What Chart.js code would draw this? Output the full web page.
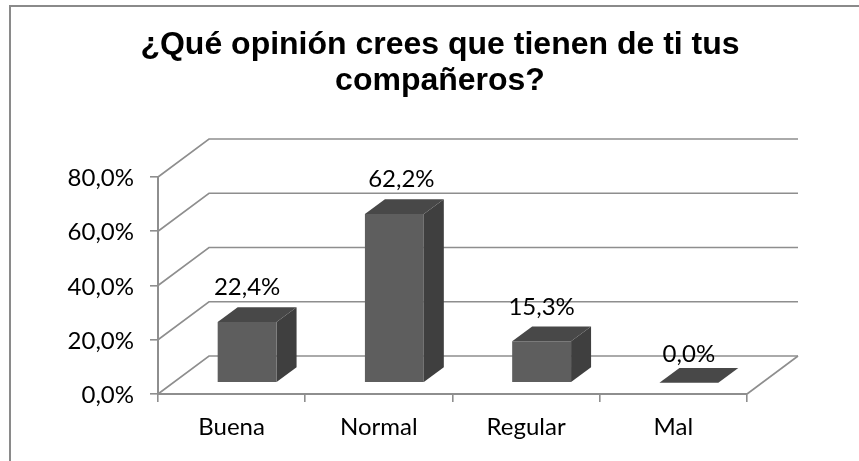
<!DOCTYPE html>
<html>
<head>
<meta charset="utf-8">
<style>
html,body{margin:0;padding:0;background:#fff;overflow:hidden;width:859px;height:461px}
#frame{position:absolute;left:9px;top:5px;width:860px;height:470px;border-left:2px solid #8a8a8a;border-top:2px solid #8a8a8a;box-sizing:border-box}
#wrap{position:absolute;left:0;top:0;width:859px;height:461px}
</style>
<script src="https://cdn.jsdelivr.net/npm/chart.js@4"></script>
</head>
<body>
<div id="frame"></div>
<div id="wrap"><canvas id="c" width="859" height="461"></canvas></div>
<script>
const categories = ['Buena', 'Normal', 'Regular', 'Mal'];
const values = [22.4, 62.2, 15.3, 0.0];
const titleLines = ['¿Qué opinión crees que tienen de ti tus', 'compañeros?'];
const labelShiftX = [0, 7, 0, 0];
const labelShiftY = [-34.4, -35, -33.7, -28];

const fmt = v => v.toFixed(1).replace('.', ',') + '%';
const WALL = {dx: 51, dy: -38};
const BAR_POS = {dx: 15.5, dy: -11.3};
const BAR_DEPTH = {dx: 20, dy: -14.7};
const GRID = '#8e8e8e';

const plugin3d = {
  id: 'plugin3d',
  beforeDraw(chart) {
    chart.scales.y.getLabelItems().forEach(item => {
      if (!item.options.nudged) {
        item.options.translation[1] += 1.5;
        item.options.nudged = true;
      }
    });
  },
  beforeDatasetsDraw(chart) {
    const {ctx, scales: {x, y}} = chart;
    ctx.save();
    ctx.strokeStyle = GRID;
    ctx.lineWidth = 1.6;
    y.ticks.forEach(t => {
      const py = y.getPixelForValue(t.value);
      ctx.beginPath();
      ctx.moveTo(x.left, py);
      ctx.lineTo(x.left + WALL.dx, py + WALL.dy);
      ctx.lineTo(x.right + WALL.dx, py + WALL.dy);
      ctx.stroke();
    });
    const by = y.getPixelForValue(0);
    ctx.beginPath();
    ctx.moveTo(x.right, by);
    ctx.lineTo(x.right + WALL.dx, by + WALL.dy);
    ctx.stroke();
    ctx.restore();
    ctx.save();
    ctx.translate(BAR_POS.dx, BAR_POS.dy);
    chart.getDatasetMeta(0).data.forEach(b => {
      const l = b.x - b.width / 2, r = b.x + b.width / 2, t = b.y, bo = b.base;
      ctx.fillStyle = '#3f3f3f';
      ctx.beginPath();
      ctx.moveTo(r, t); ctx.lineTo(r + BAR_DEPTH.dx, t + BAR_DEPTH.dy);
      ctx.lineTo(r + BAR_DEPTH.dx, bo + BAR_DEPTH.dy); ctx.lineTo(r, bo);
      ctx.closePath(); ctx.fill();
      ctx.fillStyle = '#484848';
      ctx.beginPath();
      ctx.moveTo(l, t); ctx.lineTo(l + BAR_DEPTH.dx, t + BAR_DEPTH.dy);
      ctx.lineTo(r + BAR_DEPTH.dx, t + BAR_DEPTH.dy); ctx.lineTo(r, t);
      ctx.closePath(); ctx.fill();
    });
  },
  afterDatasetsDraw(chart) {
    const {ctx} = chart;
    ctx.restore();
    ctx.save();
    ctx.fillStyle = '#000';
    ctx.font = '24px Lato';
    ctx.textAlign = 'center';
    ctx.textBaseline = 'middle';
    chart.getDatasetMeta(0).data.forEach((b, i) => {
      ctx.fillText(fmt(values[i]), b.x + BAR_POS.dx + labelShiftX[i], b.y + BAR_POS.dy + labelShiftY[i]);
    });
    ctx.restore();
  }
};

new Chart(document.getElementById('c'), {
  type: 'bar',
  data: {
    labels: categories,
    datasets: [{
      data: values,
      backgroundColor: '#5e5e5e',
      borderWidth: 0,
      barPercentage: 0.4,
      categoryPercentage: 1
    }]
  },
  plugins: [plugin3d],
  options: {
    responsive: false,
    animation: false,
    events: [],
    layout: {padding: {left: 21, right: 0, top: 0, bottom: 0}},
    plugins: {
      legend: {display: false},
      tooltip: {enabled: false},
      title: {
        display: true,
        text: titleLines,
        color: '#000',
        font: {family: 'Liberation Sans', size: 32, weight: 'bold', lineHeight: 1.125},
        padding: {top: 27, bottom: 78}
      }
    },
    scales: {
      x: {
        afterFit(s) { s.height = 67; },
        grid: {drawOnChartArea: false, color: GRID, lineWidth: 1.6, tickLength: 8},
        border: {color: GRID, width: 2},
        ticks: {color: '#000', font: {family: 'Lato', size: 24}, padding: 11, maxRotation: 0}
      },
      y: {
        min: 0, max: 80,
        afterFit(s) { s.width = 137; },
        grid: {drawOnChartArea: false, color: GRID, lineWidth: 1.6, tickLength: 8},
        border: {color: GRID, width: 2},
        ticks: {
          stepSize: 20, color: '#000', font: {family: 'Lato', size: 24}, padding: 16,
          callback: v => fmt(v)
        }
      },
      rightGutter: {
        type: 'linear',
        position: 'right',
        afterFit(s) { s.width = 112; },
        grid: {display: false},
        border: {display: false},
        ticks: {display: false}
      }
    }
  }
});
</script>
</body>
</html>
